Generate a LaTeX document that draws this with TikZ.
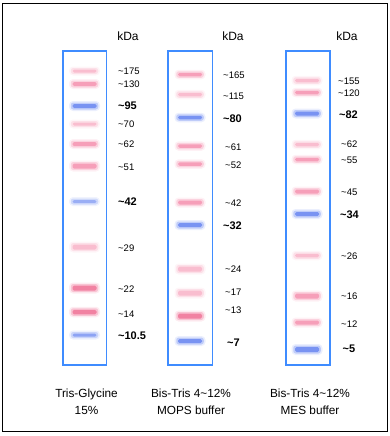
\documentclass[tikz,border=0pt]{standalone}
\usepackage{fontspec}
\setmainfont{Liberation Sans}
\definecolor{laneblue}{HTML}{3F8CFF}
\definecolor{bandblue}{HTML}{5B7BEF}
\definecolor{pinkL}{HTML}{F8AFC4}
\definecolor{pinkM}{HTML}{F48AAA}
\definecolor{pinkS}{HTML}{EE668E}
\newcommand\tld{\textasciitilde}
\newcommand\gelband[5]{%
  \node[bandhalo, fill=#4, minimum height=#5pt+6pt] at (#2,#3) {};
  \node[bandglow, fill=#4, minimum height=#5pt+3pt] at (#2,#3) {};
  \node[bandcore, fill=#4, minimum height=#5pt] (#1) at (#2,#3) {};}
\tikzset{
  bandcore/.style={rectangle, rounded corners=1.5pt, minimum width=24pt, inner sep=0pt, draw=none, fill opacity=0.7},
  bandglow/.style={rectangle, rounded corners=2.5pt, minimum width=27.5pt, inner sep=0pt, draw=none, fill opacity=0.3},
  bandhalo/.style={rectangle, rounded corners=4pt, minimum width=31pt, inner sep=0pt, draw=none, fill opacity=0.12},
  lanebox/.style={draw=laneblue, line width=1.5pt},
  mw/.style={anchor=west, inner sep=0pt, font=\fontsize{9.5}{11}\selectfont},
  mwb/.style={anchor=west, inner sep=0pt, font=\fontsize{11}{13}\selectfont\bfseries},
  kda/.style={inner sep=0pt, font=\fontsize{12}{14}\selectfont},
  caption/.style={inner sep=0pt, align=center, font=\fontsize{11.8}{16.7}\selectfont}
}
\begin{document}
\begin{tikzpicture}[x=1pt,y=-1pt]
\useasboundingbox (0,0) rectangle (390,436);
\draw[line width=0.9pt] (2.5,3) rectangle (387.5,431.5);
% lanes
\draw[lanebox] (63,51) rectangle (106.5,365);
\draw[lanebox] (168,51) rectangle (212.5,365);
\draw[lanebox] (286,51) rectangle (330,365);
% kDa
\node[kda] (k1) at (128,36) {kDa};
\node[kda] (k2) at (233,36) {kDa};
\node[kda] (k3) at (347,36) {kDa};
% lane 1
\gelband{a175}{84.5}{71}{pinkL}{3}
\gelband{a130}{84.5}{84}{pinkM}{4}
\gelband{a95}{84.5}{106}{bandblue}{4}
\gelband{a70}{84.5}{124}{pinkL}{3}
\gelband{a62}{84.5}{144}{pinkM}{4}
\gelband{a51}{84.5}{166}{pinkM}{5}
\gelband{a42}{84.5}{201.5}{bandblue!75}{3}
\gelband{a29}{84.5}{247}{pinkL}{5}
\gelband{a22}{84.5}{288}{pinkS}{5}
\gelband{a14}{84.5}{312}{pinkS}{4.5}
\gelband{a10}{84.5}{335}{bandblue!85}{3}
\node[mw] (la175) at (118,71.5) {\tld175};
\node[mw] (la130) at (118,84) {\tld130};
\node[mwb] (la95) at (118,106) {\tld95};
\node[mw] (la70) at (118,124.5) {\tld70};
\node[mw] (la62) at (118,144) {\tld62};
\node[mw] (la51) at (118,167) {\tld51};
\node[mwb] (la42) at (118,202) {\tld42};
\node[mw] (la29) at (118,248) {\tld29};
\node[mw] (la22) at (118,289) {\tld22};
\node[mw] (la14) at (118,314) {\tld14};
\node[mwb] (la10) at (118,336) {\tld10.5};
% lane 2
\gelband{b165}{190}{74.5}{pinkM}{3.5}
\gelband{b115}{190}{94.5}{pinkL}{3.5}
\gelband{b80}{190}{117.5}{bandblue}{3.5}
\gelband{b61}{190}{146}{pinkM}{3.5}
\gelband{b52}{190}{164}{pinkM}{3.5}
\gelband{b42}{190}{202.5}{pinkM}{4}
\gelband{b32}{190}{225}{bandblue}{4}
\gelband{b24}{190}{269}{pinkL}{5}
\gelband{b17}{190}{293}{pinkL}{5}
\gelband{b13}{190}{316}{pinkS}{5}
\gelband{b7}{190}{341}{bandblue}{4}
\node[mw] (lb165) at (223,75.5) {\tld165};
\node[mw] (lb115) at (223,96) {\tld115};
\node[mwb] (lb80) at (223,119) {\tld80};
\node[mw] (lb61) at (225,147) {\tld61};
\node[mw] (lb52) at (225,165) {\tld52};
\node[mw] (lb42) at (225,203) {\tld42};
\node[mwb] (lb32) at (223,226) {\tld32};
\node[mw] (lb24) at (225,269) {\tld24};
\node[mw] (lb17) at (225,292) {\tld17};
\node[mw] (lb13) at (225,310) {\tld13};
\node[mwb] (lb7) at (227,343) {\tld7};
% lane 3
\gelband{c155}{307}{80.5}{pinkL}{3.5}
\gelband{c120}{307}{92.5}{pinkM}{3.5}
\gelband{c82}{307}{113.5}{bandblue}{4}
\gelband{c62}{307}{144.5}{pinkL}{3.5}
\gelband{c55}{307}{159.5}{pinkM}{3.5}
\gelband{c45}{307}{191.5}{pinkM}{4}
\gelband{c34}{307}{214}{bandblue}{4}
\gelband{c26}{307}{255.5}{pinkL}{3.5}
\gelband{c16}{307}{296}{pinkM}{5}
\gelband{c12}{307}{322.5}{pinkM}{4}
\gelband{c5}{307}{349.5}{bandblue}{5}
\node[mw] (lc155) at (338,81) {\tld155};
\node[mw] (lc120) at (338,93) {\tld120};
\node[mwb] (lc82) at (339,114.5) {\tld82};
\node[mw] (lc62) at (341,144) {\tld62};
\node[mw] (lc55) at (341,160) {\tld55};
\node[mw] (lc45) at (341,192) {\tld45};
\node[mwb] (lc34) at (340,215) {\tld34};
\node[mw] (lc26) at (341,256.5) {\tld26};
\node[mw] (lc16) at (341,296) {\tld16};
\node[mw] (lc12) at (341,324) {\tld12};
\node[mwb] (lc5) at (342.5,349) {\tld5};
% captions
\node[caption] (cap1) at (86.5,402) {Tris-Glycine\\15\%};
\node[caption] (cap2) at (191,402) {Bis-Tris 4\tld12\%\\MOPS buffer};
\node[caption] (cap3) at (310,402) {Bis-Tris 4\tld12\%\\MES buffer};
\end{tikzpicture}
\end{document}
